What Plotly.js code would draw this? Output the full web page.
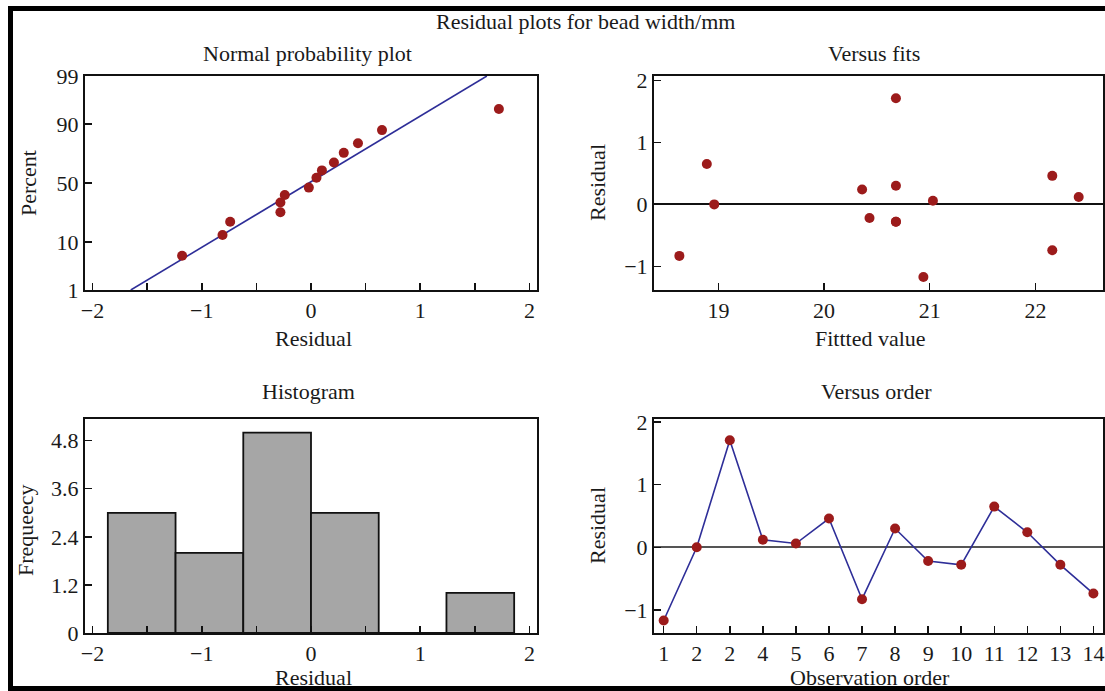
<!DOCTYPE html>
<html>
<head>
<meta charset="utf-8">
<script src="https://cdn.plot.ly/plotly-3.0.1.min.js"></script>
<style>
html,body{margin:0;padding:0;background:#fff;overflow:hidden}
#wrap{position:relative;width:1105px;height:691px;overflow:hidden}
#chart{position:absolute;left:0;top:0;width:1105px;height:691px}
#frame{position:absolute;left:8px;top:6px;width:1130px;height:685px;border:5px solid #000;box-sizing:border-box;pointer-events:none}
</style>
</head>
<body>
<div id="wrap"><div id="chart"></div><div id="frame"></div></div>
<script>
// ---------------- data ----------------
const observationOrder = [1,2,3,4,5,6,7,8,9,10,11,12,13,14];
const orderTickLabels = ['1','2','2','4','5','6','7','8','9','10','11','12','13','14'];
const residuals = [-1.17, 0.00, 1.71, 0.12, 0.06, 0.46, -0.83, 0.30, -0.22, -0.28, 0.65, 0.24, -0.28, -0.74];
const fittedValues = [20.94, 18.96, 20.68, 22.41, 21.03, 22.16, 18.63, 20.68, 20.43, 20.68, 18.89, 20.36, 20.68, 22.16];
const normalResiduals = [-1.18, -0.81, -0.74, -0.28, -0.28, -0.24, -0.02, 0.05, 0.10, 0.21, 0.30, 0.43, 0.65, 1.72];
const normalPercents = [5.7, 12.9, 20.0, 26.2, 33.6, 39.7, 46.0, 54.5, 60.8, 67.2, 74.4, 80.6, 87.5, 94.6];
const fitLineResiduals = [-1.65, 1.61];
const fitLinePercents = [1, 99];
const percentTicks = [1, 10, 50, 90, 99];
const residualTicks = [-2, -1.5, -1, -0.5, 0, 0.5, 1, 1.5, 2];
const residualTickLabels = ['\u22122', '', '\u22121', '', '0', '', '1', '', '2'];
const fittedTicks = [19, 20, 21, 22];
const residualYTicks = [-1, 0, 1, 2];
const histBinCenters = [-1.55, -0.93, -0.31, 0.31, 0.93, 1.55];
const histCounts = [3, 2, 5, 3, 0, 1];
const histBinWidth = 0.62;
const freqTicks = [0, 1.2, 2.4, 3.6, 4.8];
const freqTickLabels = ['0', '1.2', '2.4', '3.6', '4.8'];

// ---------------- normal probability scale (percent -> z) ----------------
function normInv(p) {
  const a = [-3.969683028665376e+01, 2.209460984245205e+02, -2.759285104469687e+02, 1.383577518672690e+02, -3.066479806614716e+01, 2.506628277459239e+00];
  const b = [-5.447609879822406e+01, 1.615858368580409e+02, -1.556989798598866e+02, 6.680131188771972e+01, -1.328068155288572e+01];
  const c = [-7.784894002430293e-03, -3.223964580411365e-01, -2.400758277161838e+00, -2.549732539343734e+00, 4.374664141464968e+00, 2.938163982698783e+00];
  const d = [7.784695709041462e-03, 3.224671290700398e-01, 2.445134137142996e+00, 3.754408661907416e+00];
  const pl = 0.02425, ph = 1 - pl;
  let q, r;
  if (p < pl) { q = Math.sqrt(-2 * Math.log(p)); return (((((c[0]*q+c[1])*q+c[2])*q+c[3])*q+c[4])*q+c[5]) / ((((d[0]*q+d[1])*q+d[2])*q+d[3])*q+1); }
  if (p <= ph) { q = p - 0.5; r = q*q; return (((((a[0]*r+a[1])*r+a[2])*r+a[3])*r+a[4])*r+a[5])*q / (((((b[0]*r+b[1])*r+b[2])*r+b[3])*r+b[4])*r+1); }
  q = Math.sqrt(-2 * Math.log(1 - p)); return -(((((c[0]*q+c[1])*q+c[2])*q+c[3])*q+c[4])*q+c[5]) / ((((d[0]*q+d[1])*q+d[2])*q+d[3])*q+1);
}
const pz = v => normInv(v / 100);

// ---------------- layout helpers ----------------
const W = 1105, H = 691;
const fx = x => x / W;
const fy = y => 1 - y / H;
const FONT = 'Liberation Serif, Times New Roman, serif';
const TXT = '#1a1a1a';
const RED = '#9c1b1b';
const BLUE = '#2e2e98';

const axBase = {
  showline: true, linecolor: '#111', linewidth: 2, mirror: true,
  ticks: 'inside', ticklen: 7, tickwidth: 1.5, tickcolor: '#111',
  showgrid: false, zeroline: false, fixedrange: true,
  tickfont: {family: FONT, size: 22, color: TXT}
};
const ax = o => Object.assign({}, axBase, o);

const colL = [fx(85), fx(537)], colR = [fx(654), fx(1103)];
const rowT = [fy(290), fy(76)], rowB = [fy(633), fy(419)];

const traces = [
  {x: fitLineResiduals, y: fitLinePercents.map(pz), xaxis: 'x', yaxis: 'y', mode: 'lines',
   line: {color: BLUE, width: 1.6}, hoverinfo: 'skip'},
  {x: normalResiduals, y: normalPercents.map(pz), xaxis: 'x', yaxis: 'y', mode: 'markers',
   marker: {color: RED, size: 10}},
  {x: fittedValues, y: residuals, xaxis: 'x2', yaxis: 'y2', mode: 'markers',
   marker: {color: RED, size: 10}},
  {type: 'bar', x: histBinCenters, y: histCounts, width: histBinWidth, xaxis: 'x3', yaxis: 'y3',
   marker: {color: '#a6a6a6', line: {color: '#111', width: 1.8}}},
  {x: observationOrder, y: residuals, xaxis: 'x4', yaxis: 'y4', mode: 'lines+markers',
   line: {color: BLUE, width: 1.6}, marker: {color: RED, size: 10}}
];

function ann(text, x, y, opts) {
  return Object.assign({text: text, x: fx(x), y: fy(y), xref: 'paper', yref: 'paper',
    xanchor: 'center', yanchor: 'middle', showarrow: false,
    font: {family: FONT, size: 22, color: TXT}}, opts || {});
}

const layout = {
  width: W, height: H, margin: {l: 0, r: 0, t: 0, b: 0},
  paper_bgcolor: '#fff', plot_bgcolor: '#fff', showlegend: false, bargap: 0,
  xaxis: ax({domain: colL, range: [-2.069, 2.069], tickvals: residualTicks, ticktext: residualTickLabels, anchor: 'y'}),
  yaxis: ax({domain: rowT, range: [pz(1), pz(99)], tickvals: percentTicks.map(pz), ticktext: percentTicks.map(String), anchor: 'x'}),
  xaxis2: ax({domain: colR, range: [18.39, 22.64], tickvals: fittedTicks, anchor: 'y2'}),
  yaxis2: ax({domain: rowT, range: [-1.38, 2.07], tickvals: residualYTicks, anchor: 'x2',
    zeroline: true, zerolinecolor: '#111', zerolinewidth: 2}),
  xaxis3: ax({domain: colL, range: [-2.069, 2.069], tickvals: residualTicks, ticktext: residualTickLabels, anchor: 'y3'}),
  yaxis3: ax({domain: rowB, range: [0, 5.34], tickvals: freqTicks, ticktext: freqTickLabels, anchor: 'x3'}),
  xaxis4: ax({domain: colR, range: [0.707, 14.29], tickvals: observationOrder, ticktext: orderTickLabels, anchor: 'y4'}),
  yaxis4: ax({domain: rowB, range: [-1.37, 2.05], tickvals: residualYTicks, anchor: 'x4',
    zeroline: true, zerolinecolor: '#555', zerolinewidth: 2}),
  annotations: [
    ann('Residual plots for bead width/mm', 585, 22),
    ann('Normal probability plot', 307, 53),
    ann('Versus fits', 874, 53),
    ann('Histogram', 308, 391),
    ann('Versus order', 876, 391),
    ann('Residual', 313, 338),
    ann('Fittted value', 870, 338),
    ann('Residual', 313, 677),
    ann('Observation order', 870, 677),
    ann('Percent', 28, 183, {textangle: -90}),
    ann('Residual', 597, 183, {textangle: -90}),
    ann('Frequeecy', 25, 530, {textangle: -90}),
    ann('Residual', 597, 526, {textangle: -90})
  ]
};

Plotly.newPlot('chart', traces, layout, {staticPlot: true, displayModeBar: false});
</script>
</body>
</html>
